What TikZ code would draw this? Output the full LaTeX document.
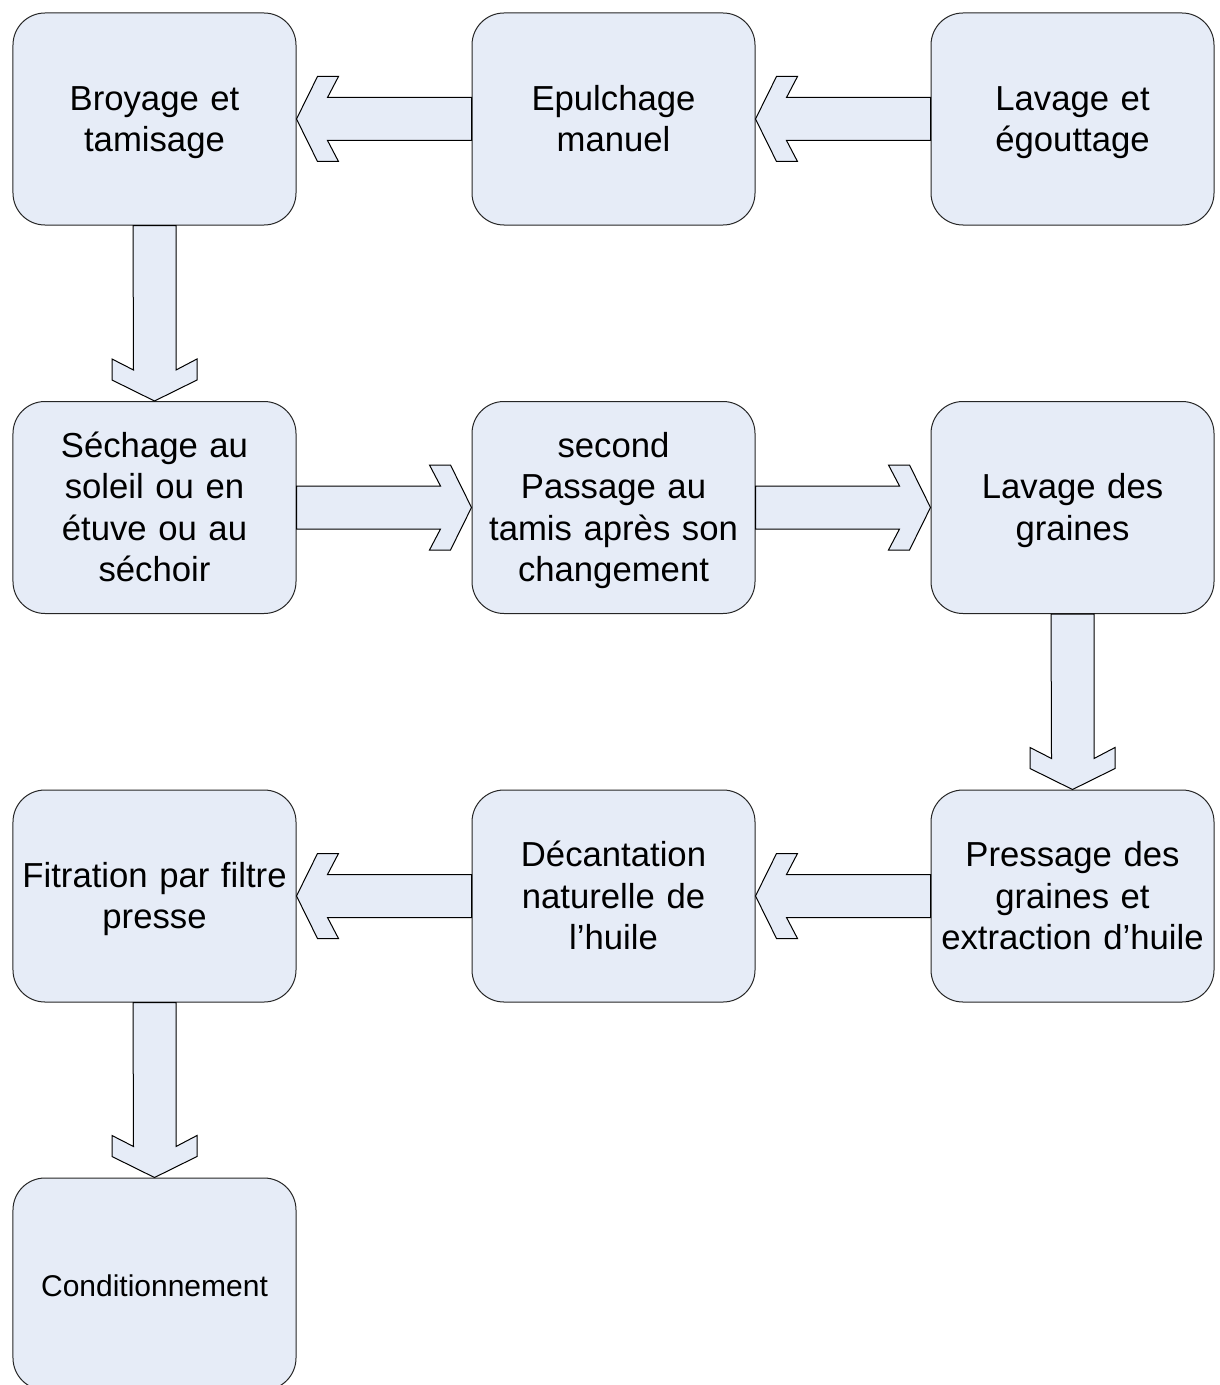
\documentclass[tikz,border=0pt]{standalone}
\usepackage{fontspec}
\setmainfont{Liberation Sans}
\usetikzlibrary{calc}
\definecolor{boxfill}{RGB}{230,236,247}
\newcommand\linestrut{\rule[-8bp]{0pt}{40bp}}
\tikzset{
  stepbox/.style={draw=black!85, fill=boxfill, line width=1bp, rounded corners=32bp,
    minimum width=283bp, minimum height=212bp, inner sep=0pt, text width=278bp,
    align=center, font=\fontsize{34.7bp}{41.5bp}\selectfont,
    execute at begin node=\linestrut, execute at end node=\linestrut},
  smalltext/.style={font=\fontsize{30bp}{36bp}\selectfont},
  flowarrow/.style={draw=black, fill=boxfill, line width=1bp, line join=miter}
}
\newcommand\flowleft[2]{%
  \draw[flowarrow] (#1.east) -- ++(21,-42.5) -- ++(21,0) -- ++(-11,21)
    -- ($(#2.west)+(0,-21.5)$) -- ($(#2.west)+(0,21.5)$)
    -- ($(#1.east)+(31,21.5)$) -- ++(11,21) -- ++(-21,0) -- cycle;}
\newcommand\flowright[2]{%
  \draw[flowarrow] (#1.west) -- ++(-21,-42.5) -- ++(-21,0) -- ++(11,21)
    -- ($(#2.east)+(0,-21.5)$) -- ($(#2.east)+(0,21.5)$)
    -- ($(#1.west)+(-31,21.5)$) -- ++(-11,21) -- ++(21,0) -- cycle;}
\newcommand\flowdown[2]{%
  \draw[flowarrow] (#1.north) -- ++(-42.5,-21) -- ++(0,-21) -- ++(21.5,11)
    -- ($(#2.south)+(-21.5,0)$) -- ($(#2.south)+(21.5,0)$)
    -- ($(#1.north)+(21.5,-31)$) -- ++(21,-11) -- ++(0,21) -- cycle;}
\begin{document}
\begin{tikzpicture}[x=1bp,y=-1bp]
\useasboundingbox[fill=white] (0,0) rectangle (1219,1385);
% boxes
\node[stepbox] (n1) at (154.5,119) {Broyage et\\tamisage};
\node[stepbox] (n2) at (613.5,119) {Epulchage\\manuel};
\node[stepbox] (n3) at (1072.5,119) {Lavage et\\égouttage};
\node[stepbox] (n4) at (154.5,507.5) {Séchage au\\soleil ou en\\étuve ou au\\séchoir};
\node[stepbox] (n5) at (613.5,507.5) {second\\Passage au\\tamis après son\\changement};
\node[stepbox] (n6) at (1072.5,507.5) {Lavage des\\graines};
\node[stepbox] (n7) at (154.5,896) {Fitration par filtre\\presse};
\node[stepbox] (n8) at (613.5,896) {Décantation\\naturelle de\\l’huile};
\node[stepbox] (n9) at (1072.5,896) {Pressage des\\graines et\\extraction d’huile};
\node[stepbox,smalltext] (n10) at (154.5,1284) {Conditionnement};
% arrows
\flowleft{n2}{n3}
\flowleft{n1}{n2}
\flowdown{n4}{n1}
\flowright{n5}{n4}
\flowright{n6}{n5}
\flowdown{n9}{n6}
\flowleft{n8}{n9}
\flowleft{n7}{n8}
\flowdown{n10}{n7}
\end{tikzpicture}
\end{document}
